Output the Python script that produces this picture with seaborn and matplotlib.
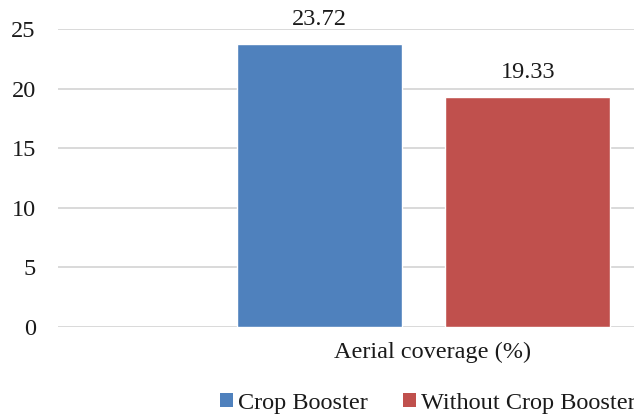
import matplotlib
matplotlib.use("Agg")
import matplotlib.pyplot as plt
import matplotlib.transforms as mtransforms
from matplotlib.patches import Patch
import seaborn as sns
import pandas as pd

# Data
metrics = ["Aerial coverage (%)"]
groups = ["Crop Booster", "Without Crop Booster"]
values = [23.72, 19.33]
colors = ["#4F81BD", "#C0504D"]
y_ticks = [0, 5, 10, 15, 20, 25]

df = pd.DataFrame({
    "metric": metrics * len(groups),
    "group": groups,
    "value": values,
})

sns.set_theme(style="white")
plt.rcParams["font.family"] = ["Liberation Serif", "DejaVu Serif"]
plt.rcParams["font.size"] = 17.5

fig = plt.figure(figsize=(6.34, 4.17), dpi=100)
ax = fig.add_axes([58 / 634, 1 - 327 / 417, 1 - 58 / 634, (327 - 29) / 417])

sns.barplot(data=df, x="metric", y="value", hue="group", palette=colors,
            width=0.8, gap=0.21, saturation=1, legend=False, ax=ax)

for cont in ax.containers:
    ax.bar_label(cont, fmt="%.2f", padding=10, fontsize=17.5, color="#1a1a1a")

ax.set_ylim(0, 25)
ax.set_yticks(y_ticks)
ax.set_xlim(-0.702, 0.404)
ax.set_xlabel("")
ax.set_ylabel("")
ax.yaxis.grid(True, color="#D9D9D9", linewidth=1.4)
ax.set_axisbelow(True)
for s in ax.spines.values():
    s.set_visible(False)
ax.tick_params(axis="y", length=0, pad=16, labelsize=17.5, labelcolor="#1a1a1a")
ax.tick_params(axis="x", length=0, pad=11, labelsize=17.5, labelcolor="#1a1a1a")
for lbl in ax.get_xticklabels():
    lbl.set_transform(lbl.get_transform() +
                      mtransforms.ScaledTranslation(9 / 100, 0, fig.dpi_scale_trans))

handles = [Patch(facecolor=c, edgecolor="none") for c in colors]
fig.legend(handles, groups, loc="center left", bbox_to_anchor=(220 / 634, 1 - 403 / 417),
           ncol=2, frameon=False, fontsize=17.5, handlelength=0.535, handleheight=0.535,
           handletextpad=0.2, columnspacing=1.45, borderpad=0, borderaxespad=0,
           labelcolor="#1a1a1a")

fig.savefig("out.png", dpi=100)
